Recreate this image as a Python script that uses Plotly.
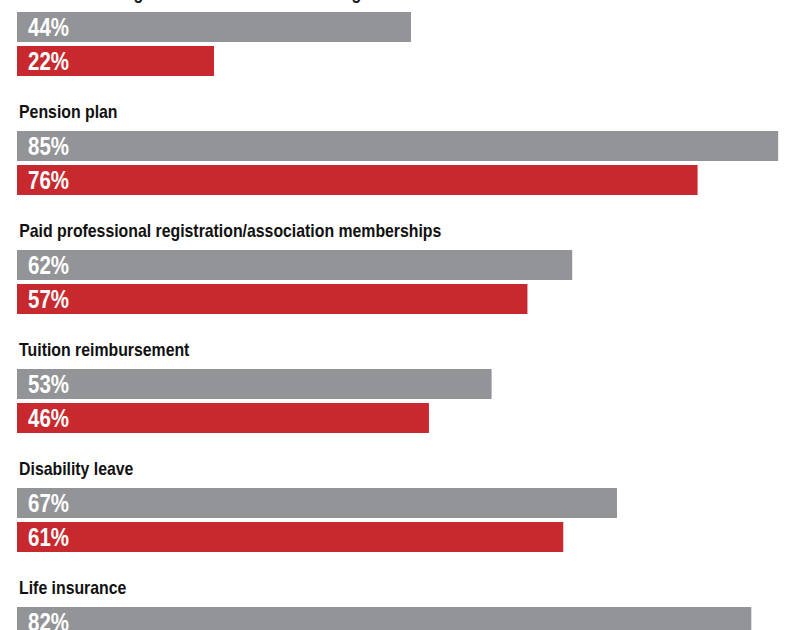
import plotly.graph_objects as go

# benefit categories, top to bottom (first one is cut off at the top of the image)
categories = [
    "Flexible working hours and/or telecommuting",
    "Pension plan",
    "Paid professional registration/association memberships",
    "Tuition reimbursement",
    "Disability leave",
    "Life insurance",
]
grey_pct = [44, 85, 62, 53, 67, 82]
red_pct = [22, 76, 57, 46, 61, 0]  # last red bar is off the picture

GREY = "#939497"
RED = "#C8292F"
FONT = "Liberation Sans, Arial, sans-serif"

step = 119.0  # px between groups
bar_w = 30 / step
off = 34 / step

idx = list(range(len(categories)))
y_grey = [i for i in idx]
y_red = [i + off for i in idx]
# labels are anchored by their bottom edge so the first one (mostly off the
# top of the picture) still has its anchor inside the axis range
y_lab = [i - 22 / step for i in idx]

fig = go.Figure()
fig.add_trace(go.Bar(
    x=grey_pct, y=y_grey, orientation="h", width=bar_w,
    marker=dict(color=GREY, line=dict(width=0)), hoverinfo="skip",
))
fig.add_trace(go.Bar(
    x=red_pct, y=y_red, orientation="h", width=bar_w,
    marker=dict(color=RED, line=dict(width=0)), hoverinfo="skip",
))

annotations = []
for lab, yl in zip(categories, y_lab):
    annotations.append(dict(
        x=0, y=yl, xref="x", yref="y", text=lab, showarrow=False,
        xanchor="left", yanchor="bottom",
        font=dict(family=FONT, size=18, color="#111111", weight="bold"),
    ))
for vals, ys in ((grey_pct, y_grey), (red_pct, y_red)):
    for v, yy in zip(vals, ys):
        if v <= 0:
            continue
        annotations.append(dict(
            x=0, y=yy, xref="x", yref="y", text=f"{v}%", showarrow=False,
            xanchor="left", yanchor="middle", xshift=9,
            font=dict(family=FONT, size=25, color="white", weight="bold"),
        ))

fig.update_layout(
    width=800, height=630,
    margin=dict(l=17, r=0, t=0, b=0),
    paper_bgcolor="white", plot_bgcolor="white",
    showlegend=False, barmode="overlay",
    annotations=annotations,
    xaxis=dict(range=[0, 783 / 8.955], visible=False, fixedrange=True),
    yaxis=dict(range=[(630 - 27) / step, -27 / step], visible=False, fixedrange=True),
)

# page has a default 8px body margin; drop it.  No condensed face is
# installed, so squeeze the text horizontally to get the narrow look.
css = (
    "document.body.style.margin='0';document.body.style.overflow='hidden';"
    "var s=document.createElement('style');"
    "s.textContent='.annotation-text{transform-box:fill-box;"
    "transform-origin:0% 50%;transform:scaleX(0.82);}"
    ".annotation-text[style*=\"font-size: 18px\"]{transform:scaleX(0.88);}';"
    "document.head.appendChild(s);"
)
fig.write_html("out.html", config={"displayModeBar": False}, post_script=css)
